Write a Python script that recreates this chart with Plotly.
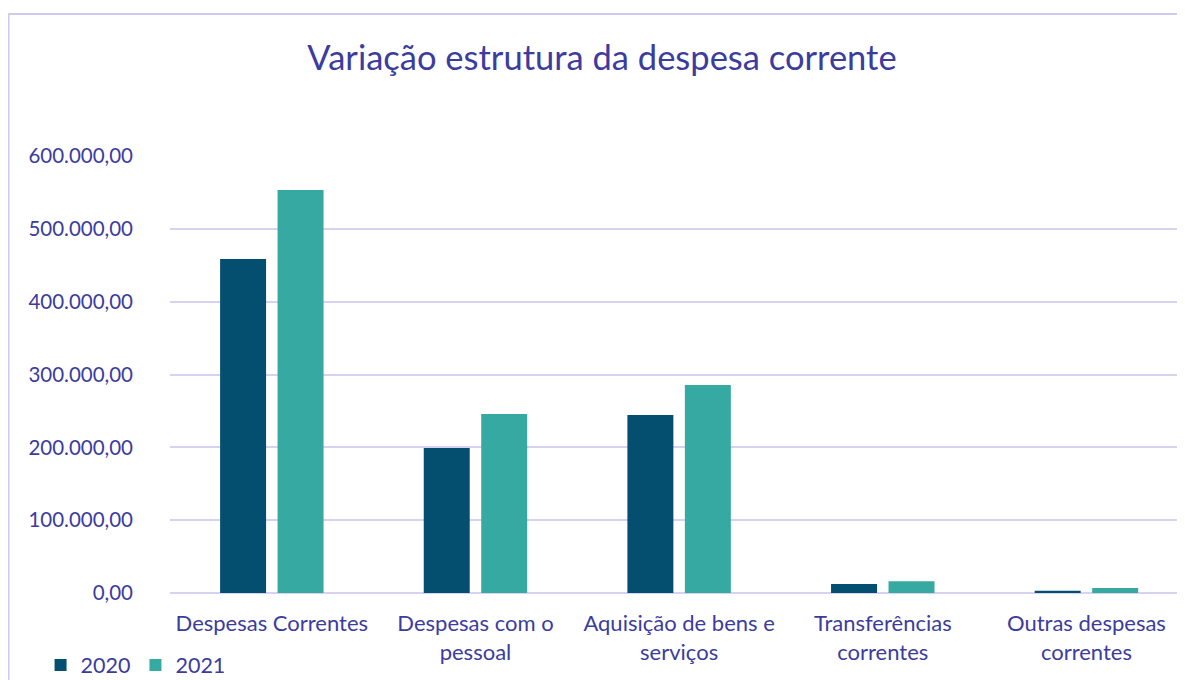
import plotly.graph_objects as go

categories = ["Despesas Correntes", "Despesas com o<br>pessoal", "Aquisição de bens e<br>serviços",
              "Transferências<br>correntes", "Outras despesas<br>correntes"]
values_2020 = [458600, 199000, 244400, 12500, 3000]
values_2021 = [553300, 245800, 285600, 16000, 7000]
tick_vals = [0, 100000, 200000, 300000, 400000, 500000, 600000]

TXT = "#3C3C9E"
FONT = "Lato"
OFF = 8  # page margin of the browser
W, H = 1185 - OFF, 680 - OFF
L, R, T, B = 161.5, 0, 148, 87
pw, ph = W - L - R, H - T - B
CAT_PX = 203.75  # pixels per category in the reference

def px_x(x):  # screen x -> paper
    return (x - OFF - L) / pw

def px_y(y):  # screen y -> paper
    return (H - B - (y - OFF)) / ph

fig = go.Figure()
fig.add_trace(go.Bar(name="2020", x=categories, y=values_2020, marker_color="#044F70",
                     marker_line_width=0))
fig.add_trace(go.Bar(name="2021", x=categories, y=values_2021, marker_color="#36AAA2",
                     marker_line_width=0))

fig.update_layout(
    width=W, height=H,
    margin=dict(l=L, r=R, t=T, b=B, autoexpand=False),
    paper_bgcolor="white", plot_bgcolor="white",
    barmode="group", bargap=0.4356, bargroupgap=0.2,
    separators=",.",
    font=dict(family=FONT, color=TXT, size=20),
    title=dict(text="Variação estrutura da despesa corrente", x=(602 - OFF) / W, xanchor="center",
               y=1 - (58 - OFF) / H, yanchor="middle", font=dict(size=34.5, color=TXT, family=FONT)),
    legend=dict(orientation="h", x=px_x(40), y=px_y(665), xanchor="left", yanchor="middle",
                font=dict(size=21.5, color=TXT), bgcolor="rgba(0,0,0,0)", itemwidth=30,
                tracegroupgap=0),
    xaxis=dict(showgrid=False, showline=False, ticks="", automargin=False,
               range=[-0.5, -0.5 + pw / CAT_PX],
               ticklabelstandoff=15, tickfont=dict(size=22, color=TXT)),
    yaxis=dict(range=[0, 600000], tickvals=tick_vals, tickformat=",.2f", showgrid=True,
               gridcolor="#D6D2F0", gridwidth=2, zeroline=True, zerolinecolor="#D6D2F0",
               zerolinewidth=2, ticks="", ticklabelstandoff=36, automargin=False,
               tickfont=dict(size=20.5, color=TXT)),
    shapes=[dict(type="rect", xref="paper", yref="paper",
                 x0=px_x(8), x1=px_x(1200), y0=px_y(14), y1=px_y(700),
                 line=dict(color="#CFCBEE", width=2), fillcolor="rgba(0,0,0,0)", layer="below")],
)

fig.write_html("out.html")
